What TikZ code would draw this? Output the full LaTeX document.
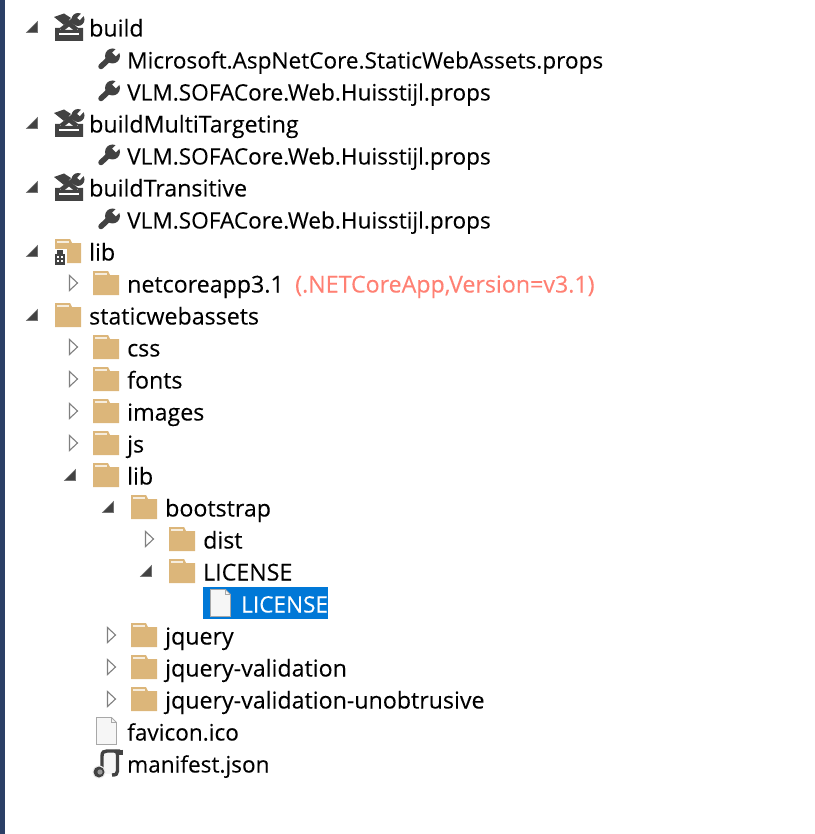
\documentclass[tikz,border=0pt]{standalone}
\usepackage{fontspec}
\setmainfont[FakeBold=0.12]{Open Sans}
\definecolor{navybar}{HTML}{2B3F66}
\definecolor{folderfill}{HTML}{DCB67A}
\definecolor{icondark}{HTML}{424242}
\definecolor{pagefill}{HTML}{F6F6F6}
\definecolor{pageedge}{HTML}{A8A8A8}
\definecolor{selectblue}{HTML}{0078D7}
\definecolor{versionred}{HTML}{FF8073}
\tikzset{
  rowlabel/.style={anchor=base west,inner sep=0pt,font=\fontsize{22.6}{26}\selectfont},
  dirlabel/.style={anchor=base west,inner sep=0pt,font=\fontsize{23.2}{26}\selectfont},
  pics/noarrow/.style={code={}},
  pics/openarrow/.style={code={
    \draw[black!50,line width=1.1pt,fill=white,line join=miter] (-57.5,-8.5) -- (-49.5,-1) -- (-57.5,6.5) -- cycle;
  }},
  pics/closedarrow/.style={code={
    \draw[black!55,line width=.6pt,fill=icondark] (-51.5,-6.5) -- (-51.5,4.5) -- (-62.5,4.5) -- cycle;
  }},
  pics/foldericon/.style={code={
    \fill[folderfill] (-34,-13) -- (-19,-13) -- (-17,-9) -- (-8,-9) -- (-8,11) -- (-34,11) -- cycle;
    \fill[white!75!folderfill] (-32.5,-10.8) rectangle (-20,-9.4);
  }},
  pics/pkgicon/.style={code={
    \pic {foldericon};
    \fill[white] (-35.5,-3.5) rectangle (-22.5,13.5);
    \fill[icondark] (-34,1.5) rectangle (-24,12.5);
    \fill[icondark] (-32,-2.5) rectangle (-26,1.5);
    \foreach \wx in {-32.5,-28.3}
      \foreach \wy in {3.5,7.7}
        \fill[white] (\wx,\wy) rectangle +(2.4,2.6);
  }},
  pics/wrenchicon/.style={code={
    \draw[icondark,line width=5.5pt,line cap=round] (-26,6.5) -- (-16,-3);
    \fill[icondark] (-14.5,-4) circle (7.5);
    \draw[white,line width=5pt] (-13,-5.5) -- (-6,-12.5);
  }},
  pics/buildicon/.style={code={
    \fill[icondark] (-34,0) -- (-29,0) -- (-29,2) -- (-11,2) -- (-11,0) -- (-6,0) -- (-6,13) -- (-34,13) -- cycle;
    \fill[white] (-30,5) rectangle (-10,7.5);
    \draw[icondark,line width=4.6pt] (-28,2) -- (-13,-10);
    \draw[icondark,line width=4.6pt] (-12,2) -- (-27,-10);
    \fill[icondark] (-35,-11) -- (-25,-14.5) -- (-18,-10) -- (-25,-3) -- cycle;
    \fill[icondark] (-11,-8.5) circle (6.5);
    \draw[white,line width=3.4pt] (-10.5,-9) -- (-5,-15);
  }},
  pics/pageicon/.style={code={
    \draw[pageedge,line width=.9pt,fill=pagefill] (-30.5,-14.5) -- (-15.5,-14.5) -- (-10.5,-9.5) -- (-10.5,12.5) -- (-30.5,12.5) -- cycle;
    \draw[pageedge,line width=.7pt] (-15.5,-14.5) -- (-15.5,-9.5) -- (-10.5,-9.5);
  }},
  pics/scrollicon/.style={code={
    \fill[pagefill] (-23,-12) rectangle (-10,10);
    \draw[icondark,line width=3.4pt] (-25,8) -- (-25,-8) .. controls (-25,-12) and (-23,-13) .. (-20,-13) -- (-7,-13);
    \draw[icondark,line width=3.4pt] (-12,-13) .. controls (-9,-13) and (-9.5,-10) .. (-9.5,-8) -- (-9.5,7) .. controls (-9.5,10) and (-11,11) .. (-15,11);
    \draw[icondark,line width=3.4pt] (-6,-14.5) -- (-6,-9);
    \fill[white!92!black] (-28,8) circle (6.5);
    \fill[icondark] (-28,8) circle (5.5);
    \fill[black!40] (-27,8) circle (2.6);
  }}
}
\begin{document}
\begin{tikzpicture}[x=1pt,y=-1pt]
  \useasboundingbox (0,0) rectangle (814,834);
  \fill[navybar] (0,0) rectangle (4.5,834);
  \fill[selectblue] (203,587) rectangle (328,619);
  \foreach \nodename/\xx/\yy/\arrow/\icon/\labelstyle/\rowtext in {
    build/89/28/closedarrow/buildicon/dirlabel/build,
    staticprops/127/60/noarrow/wrenchicon/rowlabel/Microsoft.AspNetCore.StaticWebAssets.props,
    buildprops/127/92/noarrow/wrenchicon/rowlabel/VLM.SOFACore.Web.Huisstijl.props,
    multitarget/89/124/closedarrow/buildicon/dirlabel/buildMultiTargeting,
    multiprops/127/156/noarrow/wrenchicon/rowlabel/VLM.SOFACore.Web.Huisstijl.props,
    transitive/89/188/closedarrow/buildicon/dirlabel/buildTransitive,
    transprops/127/220/noarrow/wrenchicon/rowlabel/VLM.SOFACore.Web.Huisstijl.props,
    libroot/89/252/closedarrow/pkgicon/dirlabel/lib,
    netcore/127/284/openarrow/foldericon/dirlabel/netcoreapp3.1,
    webassets/89/316/closedarrow/foldericon/dirlabel/staticwebassets,
    css/127/348/openarrow/foldericon/dirlabel/css,
    fonts/127/380/openarrow/foldericon/dirlabel/fonts,
    images/127/412/openarrow/foldericon/dirlabel/images,
    js/127/444/openarrow/foldericon/dirlabel/js,
    libdir/127/476/closedarrow/foldericon/dirlabel/lib,
    bootstrap/165/508/closedarrow/foldericon/dirlabel/bootstrap,
    dist/203/540/openarrow/foldericon/dirlabel/dist,
    licensedir/203/572/closedarrow/foldericon/dirlabel/LICENSE,
    jquery/165/636/openarrow/foldericon/dirlabel/jquery,
    validation/165/668/openarrow/foldericon/dirlabel/jquery-validation,
    unobtrusive/165/700/openarrow/foldericon/dirlabel/jquery-validation-unobtrusive,
    favicon/127/732/noarrow/pageicon/rowlabel/favicon.ico,
    manifest/127/764/noarrow/scrollicon/rowlabel/manifest.json
  } {
    \pic at (\xx,\yy) {\arrow};
    \pic at (\xx,\yy) {\icon};
    \node[\labelstyle] (\nodename) at (\xx,\yy+8.5) {\rowtext};
  }
  \pic at (241,604) {pageicon};
  \node[rowlabel,text=white] (licensefile) at (241,612.5) {LICENSE};
  \node[dirlabel,text=versionred] (version) at (295,292.5) {(.NETCoreApp,Version=v3.1)};
\end{tikzpicture}
\end{document}
